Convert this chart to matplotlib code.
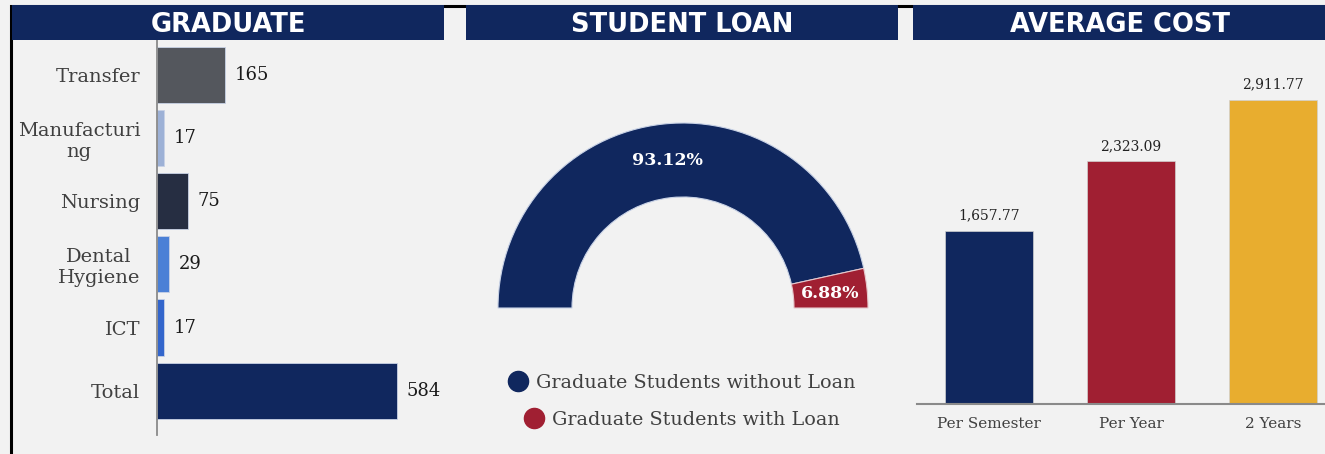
import matplotlib.pyplot as plt
from matplotlib.patches import Rectangle
from matplotlib.lines import Line2D

# data
grad_labels = ['Transfer', 'Manufacturi\nng', 'Nursing', 'Dental\nHygiene', 'ICT', 'Total']
grad_values = [165, 17, 75, 29, 17, 584]
grad_colors = ['#54575d', '#9db1d6', '#262e42', '#4b80d6', '#3366cc', '#10275e']

loan_labels = ['Graduate Students without Loan', 'Graduate Students with Loan']
loan_pct = [93.12, 6.88]
loan_colors = ['#10275e', '#a01f32']

cost_labels = ['Per Semester', 'Per Year', '2 Years']
cost_values = [1657.77, 2323.09, 2911.77]
cost_colors = ['#10275e', '#a01f32', '#e8ad2f']

W, H = 1325, 454
BG = '#f2f2f2'
NAVY = '#10275e'
SERIF = 'DejaVu Serif'

fig = plt.figure(figsize=(W / 100, H / 100), dpi=100, facecolor=BG)


def box(x0, y0, x1, y1):
    # pixel box (top-left origin) -> figure fraction
    return [x0 / W, 1 - y1 / H, (x1 - x0) / W, (y1 - y0) / H]


# outer frame
fig.patches.append(Rectangle((11 / W, -0.1), 1.2, 1 - 6 / H + 0.1, transform=fig.transFigure,
                             fill=False, edgecolor='black', lw=2.2, zorder=0))

# header bars
for x0, x1, title in [(12, 444, 'GRADUATE'), (466, 898, 'STUDENT LOAN'), (913, 1326, 'AVERAGE COST')]:
    fig.patches.append(Rectangle((x0 / W, 1 - 40 / H), (x1 - x0) / W, 35 / H,
                                 transform=fig.transFigure, facecolor=NAVY, edgecolor='none', zorder=1))
    fig.text((x0 + x1) / 2 / W, 1 - 25.5 / H, title, color='white', fontsize=18.5, fontweight='bold',
             ha='center', va='center', family='DejaVu Sans', zorder=2)

# --- Graduate horizontal bars
ax1 = fig.add_axes(box(157, 40, 445, 435))
ax1.set_facecolor('none')
ypos = list(range(len(grad_values)))
ax1.barh(ypos, grad_values, height=0.89, color=grad_colors, edgecolor='#c8d2e6', linewidth=0.6)
for y, v in zip(ypos, grad_values):
    ax1.text(v + 24, y, str(v), va='center', ha='left', fontsize=13, family=SERIF, color='#1a1a1a')
ax1.set_xlim(0, 288 / 0.411)
ax1.set_ylim(5.7, -0.55)
ax1.set_yticks(ypos)
ax1.set_yticklabels(grad_labels, fontsize=14, family=SERIF, color='#404040', multialignment='center')
ax1.tick_params(axis='y', length=0, pad=12)
ax1.set_xticks([])
for s in ['top', 'right', 'bottom']:
    ax1.spines[s].set_visible(False)
ax1.spines['left'].set_color('#8a8a8a')
ax1.spines['left'].set_linewidth(1.3)

# --- Student loan half donut
ax2 = fig.add_axes(box(466, 40, 898, 454))
ax2.set_facecolor('none')
cx, cy, r = 683, 308, 185
wedges, _ = ax2.pie(loan_pct + [sum(loan_pct)], colors=loan_colors + ['none'], startangle=180,
                    counterclock=False, radius=1,
                    wedgeprops=dict(width=0.4, edgecolor='none'))
wedges[0].set_edgecolor('#c8d2e6')
wedges[1].set_edgecolor('#e6c8cc')
wedges[0].set_linewidth(0.8)
wedges[1].set_linewidth(0.8)
wedges[2].set_visible(False)
ax2.set_aspect('auto')
ax2.set_xlim((466 - cx) / r, (898 - cx) / r)
ax2.set_ylim((cy - 454) / r, (cy - 40) / r)
ax2.axis('off')
ax2.text(-0.085, 0.795, f'{loan_pct[0]:.2f}%', color='white', fontsize=12.5, family=SERIF,
         fontweight='bold', ha='center', va='center')
ax2.text(0.795, 0.08, f'{loan_pct[1]:.2f}%', color='white', fontsize=12.5, family=SERIF,
         fontweight='bold', ha='center', va='center')
for i, (lab, col) in enumerate(zip(loan_labels, loan_colors)):
    h = Line2D([], [], marker='o', ls='none', markersize=14.5, markerfacecolor=col, markeredgecolor=col)
    leg = ax2.legend([h], [lab], loc='center', bbox_to_anchor=(0.5, 1 - (343 + 37 * i) / 414),
                     frameon=False, prop=dict(family=SERIF, size=13.8), labelcolor='#404040',
                     handletextpad=0.4, handlelength=1.0, borderpad=0)
    if i == 0:
        ax2.add_artist(leg)

# --- Average cost bars
ax3 = fig.add_axes(box(917, 40, 1325, 404))
ax3.set_facecolor('none')
xpos = list(range(len(cost_values)))
ax3.bar(xpos, cost_values, width=0.62, color=cost_colors, edgecolor='#d0d0d0', linewidth=0.5)
for x, v in zip(xpos, cost_values):
    ax3.text(x, v + 80, f'{v:,.2f}', ha='center', va='bottom', fontsize=10, family=SERIF, color='#222222')
ax3.set_xlim((917 - 989) / 142, (1325 - 989) / 142)
ax3.set_ylim(0, 364 / 0.1044)
ax3.set_xticks(xpos)
ax3.set_xticklabels(cost_labels, fontsize=11, family=SERIF, color='#404040')
ax3.tick_params(axis='x', length=0, pad=9)
ax3.set_yticks([])
for s in ['top', 'right', 'left']:
    ax3.spines[s].set_visible(False)
ax3.spines['bottom'].set_color('#8a8a8a')
ax3.spines['bottom'].set_linewidth(1.5)

fig.savefig('out.png', dpi=100, facecolor=BG)
